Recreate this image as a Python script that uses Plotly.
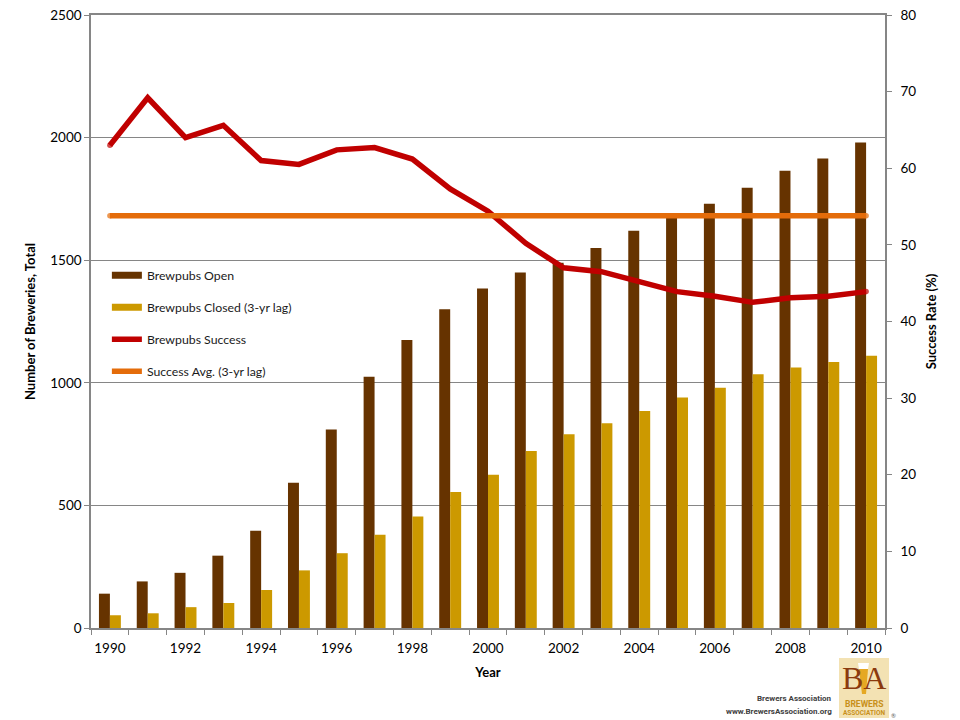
import plotly.graph_objects as go

years = list(range(1990, 2011))
brewpubs_open = [140, 190, 225, 295, 397, 592, 810, 1025, 1175, 1300, 1385, 1450, 1490, 1550, 1620, 1685, 1730, 1795, 1865, 1915, 1980]
brewpubs_closed = [52, 60, 85, 102, 155, 235, 305, 380, 455, 555, 625, 722, 790, 835, 885, 940, 980, 1035, 1062, 1085, 1110]
brewpubs_success = [63, 69.2, 64, 65.6, 61, 60.5, 62.4, 62.7, 61.2, 57.3, 54.4, 50.2, 47, 46.5, 45.2, 43.9, 43.3, 42.5, 43.1, 43.3, 43.9]
success_avg = [53.8] * 21

BROWN = "#663300"
GOLD = "#CC9900"
RED = "#C00000"
ORANGE = "#E46C0A"
GRAY = "#868686"
FONT = "Lato, Carlito, 'Open Sans', sans-serif"
SMALL = "Roboto, 'Liberation Sans', sans-serif"
SERIF = "'Liberation Serif', serif"

# round ends only: a dot at the first and last point of each line
end_dots = [5.5] + [0] * 19 + [5.5]

fig = go.Figure()
# legend keys for the bars: wide flat swatches as in the reference
fig.add_scatter(x=[None], y=[None], name="Brewpubs Open", mode="lines", line=dict(color=BROWN, width=7), legendgroup="a")
fig.add_scatter(x=[None], y=[None], name="Brewpubs Closed (3-yr lag)", mode="lines", line=dict(color=GOLD, width=7), legendgroup="b")
fig.add_bar(x=years, y=brewpubs_open, name="Brewpubs Open", marker_color=BROWN, marker_line_width=0, showlegend=False)
fig.add_bar(x=years, y=brewpubs_closed, name="Brewpubs Closed (3-yr lag)", marker_color=GOLD, marker_line_width=0, showlegend=False)
fig.add_scatter(x=years, y=brewpubs_success, name="Brewpubs Success", mode="lines+markers", yaxis="y2",
                line=dict(color=RED, width=5.5), marker=dict(color=RED, size=end_dots, line_width=0), legendgroup="c")
fig.add_scatter(x=years, y=success_avg, name="Success Avg. (3-yr lag)", mode="lines+markers", yaxis="y2",
                line=dict(color=ORANGE, width=5.5), marker=dict(color=ORANGE, size=end_dots, line_width=0), legendgroup="d")

fig.update_layout(
    width=952, height=712, autosize=False,
    margin=dict(l=83, r=75, t=7, b=92),
    paper_bgcolor="white", plot_bgcolor="white",
    font=dict(family=FONT, size=14, color="#000000"),
    barmode="group", bargap=0.42, bargroupgap=0,
    xaxis=dict(range=[1989.5, 2010.5], tickmode="array", tickvals=years[::2], ticks="", automargin=False,
               showgrid=False, showline=True, linecolor=GRAY, linewidth=1.5, mirror=True, ticklabelstandoff=7,
               minor=dict(tickmode="array", tickvals=[y - 0.5 for y in years] + [2010.5], ticks="outside",
                          ticklen=5, tickcolor=GRAY, tickwidth=1, showgrid=False),
               title=dict(text="<b>Year</b>", font=dict(size=13), standoff=13), tickfont=dict(size=13.5)),
    yaxis=dict(range=[0, 2500], dtick=500, ticks="outside", ticklen=5, tickcolor=GRAY, automargin=False,
               showgrid=True, gridcolor=GRAY, gridwidth=1, showline=True, linecolor=GRAY, linewidth=1.5,
               zeroline=False, ticklabeloverflow="allow",
               title=dict(text="<b>Number of Breweries, Total</b>", font=dict(size=13), standoff=12),
               tickfont=dict(size=13.5)),
    yaxis2=dict(range=[0, 80], dtick=10, overlaying="y", side="right", ticks="outside", ticklen=5, automargin=False,
                tickcolor=GRAY, showgrid=False, showline=True, linecolor=GRAY, linewidth=1.5, zeroline=False,
                ticklabelstandoff=6, ticklabeloverflow="allow",
                title=dict(text="<b>Success Rate (%)</b>", font=dict(size=13), standoff=12),
                tickfont=dict(size=13.5)),
    legend=dict(x=0.02, y=0.599, xanchor="left", yanchor="top", bgcolor="rgba(0,0,0,0)",
                font=dict(size=12.3, color="#1a1a1a"), tracegroupgap=13, itemwidth=30, traceorder="grouped"),
    showlegend=True,
)

# Brewers Association logo block: positions given in reference pixels
def fx(x): return (x - 91) / 794
def fy(y): return (628 - y) / 613

def poly(points, color):
    path = "M " + " L ".join(f"{fx(x)} {fy(y)}" for x, y in points) + " Z"
    return dict(type="path", xref="paper", yref="paper", path=path, fillcolor=color, line_width=0, layer="above")

fig.update_layout(shapes=[
    dict(type="rect", xref="paper", yref="paper", x0=fx(839), x1=fx(889), y0=fy(718), y1=fy(658),
         fillcolor="#F3E2B3", line_width=0, layer="above"),
    poly([(858, 663), (869, 663), (868, 669), (859, 669)], "#FFFFFF"),
    poly([(859, 669), (868, 669), (866, 694), (862, 694)], "#E5A823"),
])

def note(x, y, text, size, color, family, anchor="right"):
    fig.add_annotation(x=fx(x), y=fy(y), xref="paper", yref="paper", text=text, showarrow=False,
                       xanchor=anchor, yanchor="middle", borderpad=0, font=dict(size=size, color=color, family=family))

note(833, 698, "<b>Brewers Association</b>", 8, "#404040", SMALL)
note(833, 711, "<b>www.BrewersAssociation.org</b>", 8, "#404040", SMALL)
note(864, 678, "BA", 32, "#8B3A0E", SERIF, "center")
note(864, 704, "<b>BREWERS</b>", 8.5, "#C8901A", SMALL, "center")
note(864, 712.5, "<b>ASSOCIATION</b>", 6.5, "#C8901A", SMALL, "center")
note(893, 715, "®", 6, "#606060", FONT, "center")

fig.write_html("out.html")
